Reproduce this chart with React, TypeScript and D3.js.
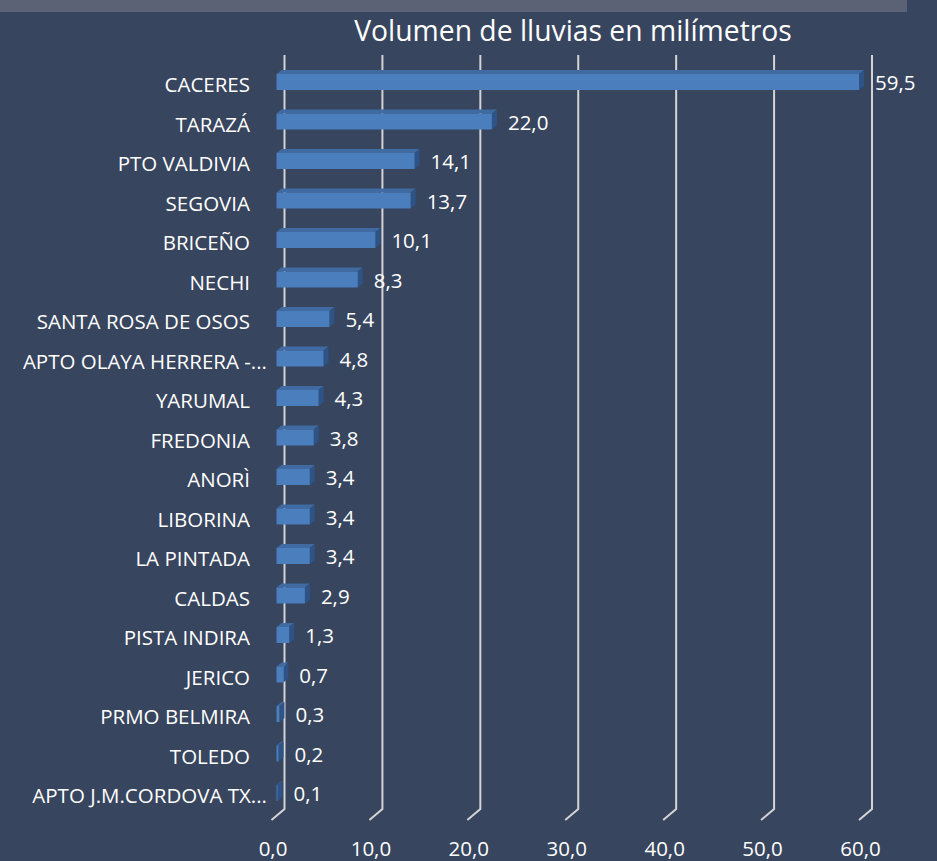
import React, { useEffect } from "react";
import * as d3 from "d3";

const categories = [
  "CACERES", "TARAZÁ", "PTO VALDIVIA", "SEGOVIA", "BRICEÑO", "NECHI",
  "SANTA ROSA DE OSOS", "APTO OLAYA HERRERA -...", "YARUMAL", "FREDONIA",
  "ANORÌ", "LIBORINA", "LA PINTADA", "CALDAS", "PISTA INDIRA", "JERICO",
  "PRMO BELMIRA", "TOLEDO", "APTO J.M.CORDOVA TX...",
];
const values = [59.5, 22.0, 14.1, 13.7, 10.1, 8.3, 5.4, 4.8, 4.3, 3.8, 3.4, 3.4, 3.4, 2.9, 1.3, 0.7, 0.3, 0.2, 0.1];
const ticks = [0, 10, 20, 30, 40, 50, 60];
const title = "Volumen de lluvias en milímetros";

const W = 937, H = 861;
const FONT = "'Open Sans', sans-serif";

export default function App() {
  useEffect(() => {
    document.body.style.margin = "0";
    document.body.style.background = "#37455e";
  }, []);

  const x = d3.scaleLinear().domain([0, 60]).range([284.5, 872]);
  const y = d3.scaleBand<string>().domain(categories).range([62.25, 812.75]);
  const fmt = (v: number) => d3.format(".1f")(v).replace(".", ",");

  const barOff = -8;
  const ddx = 5, ddy = 4;
  const barH = 16;
  const gTop = 55, gBot = 809, fdx = -13, fdy = 11;

  return (
    <svg width={W} height={H} style={{ position: "absolute", left: 0, top: 0, display: "block" }} fontFamily={FONT}>
      <rect x={0} y={0} width={W} height={H} fill="#37455e" />
      <rect x={0} y={0} width={907} height={12} fill="#5b6276" />
      <text x={573} y={41} textAnchor="middle" fill="#ffffff" fontSize={28.3}>{title}</text>
      {ticks.map((t) => {
        const xb = x(t);
        return (
          <g key={t}>
            <path d={`M${xb},${gTop}L${xb},${gBot}L${xb + fdx},${gBot + fdy}`} fill="none" stroke="#d4d4d4" strokeWidth={2} />
            <text x={xb + fdx + 1.5} y={856} textAnchor="middle" fill="#ffffff" fontSize={20.5}>{fmt(t)}</text>
          </g>
        );
      })}
      {categories.map((c, i) => {
        const cy = (y(c) as number) + y.bandwidth() / 2;
        const x0 = x(0) + barOff;
        const x1 = x(values[i]) + barOff;
        const yt = cy - barH / 2;
        const long = c.endsWith("...");
        return (
          <g key={c}>
            <path d={`M${x0},${yt}L${x0 + ddx},${yt - ddy}L${x1 + ddx},${yt - ddy}L${x1},${yt}Z`} fill="#3f6aa2" />
            <path d={`M${x1},${yt}L${x1 + ddx},${yt - ddy}L${x1 + ddx},${yt + barH - ddy}L${x1},${yt + barH}Z`} fill="#2e5386" />
            <rect x={x0} y={yt} width={Math.max(0, x1 - x0)} height={barH} fill="#4a7ebd" />
            <text x={long ? 267 : 250} y={cy + 5} dominantBaseline="middle" textAnchor="end" fill="#ffffff" fontSize={20.5}>{c}</text>
            <text x={x1 + 16} y={cy + 3} dominantBaseline="middle" fill="#ffffff" fontSize={20.5}>{fmt(values[i])}</text>
          </g>
        );
      })}
    </svg>
  );
}
